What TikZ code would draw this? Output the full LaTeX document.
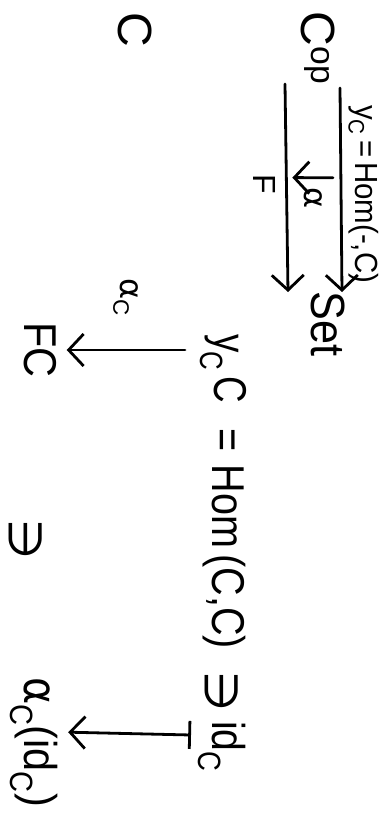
\documentclass[tikz,border=0pt]{standalone}
\usepackage{fontspec}
\setmainfont{Liberation Sans}
\newfontfamily\symf{DejaVu Sans}
\usetikzlibrary{arrows.meta,calc}
\begin{document}
\begin{tikzpicture}[x=1pt,y=1pt,
  line width=2.8pt, line cap=round,
  barb/.style={-{Straight Barb[length=15pt,width=32pt,line width=2.8pt]}},
  mapbar/.style={{Bar[width=28pt,line width=2.8pt]}-{Straight Barb[length=15pt,width=32pt,line width=2.8pt]}},
  obj/.style={inner sep=0pt, font=\fontsize{48}{56}\selectfont},
  row/.style={inner sep=0pt, font=\fontsize{46}{52}\selectfont},
  lab/.style={inner sep=0pt, font=\fontsize{32}{36}\selectfont}]
\begin{scope}[rotate=-90, transform shape]
\useasboundingbox (0,0) rectangle (821,388);
% top row
\node[obj] (C) at (30,135) {C};
\node[obj] (Cop) at (48,318) {C\textsuperscript{op}};
\node[obj, xscale=0.9] (Set) at (324,328) {Set};
\draw[barb] ($(Cop.center)+(40,22)$) -- coordinate[pos=0.44] (t1)
  node[lab, pos=0.52, above=6pt, xscale=0.92] (yl) {y\textsubscript{C}\,=\,Hom(-,C)}
  ($(Set.center)+(-32,14)$);
\draw[barb] ($(Cop.center)+(36,-33)$) -- coordinate[pos=0.45] (b1)
  node[lab, pos=0.48, below=10pt] (Fl) {F}
  ($(Set.center)+(-32,-40)$);
\draw[barb, shorten <=8pt, shorten >=6pt] (t1) -- node[lab, right=8pt] (al) {{\symf α}} (b1);
% middle row
\node[row, xscale=0.8, anchor=west] (yC) at (333,223) {y\kern-1pt\textsubscript{C}\,C};
\node[row, xscale=0.86, anchor=west] (hom) at (427,224) {=\,\,Hom\,(C,C)};
\node[row] (ni1) at (692,222) {{\symf ∋}};
\node[row, xscale=0.85, anchor=west] (idC) at (720,222) {id\textsubscript{C}};
% bottom row
\node[row, xscale=0.9] (FC) at (350,40) {FC};
\node[row] (ni2) at (540,26) {{\symf ∋}};
\node[row, xscale=0.9, anchor=west] (aid) at (676,34) {{\symf α}\textsubscript{C}(id\textsubscript{C})};
% vertical maps
\draw[barb] ($(yC.west)+(17,-38)$) -- node[lab, left=32pt] (acl) {{\symf α}\textsubscript{C}} ($(FC.north)+(0,9)$);
\draw[mapbar] ($(idC.west)+(15,-31)$) -- ($(aid.north)+(-10,9)$);
\end{scope}
\end{tikzpicture}
\end{document}
